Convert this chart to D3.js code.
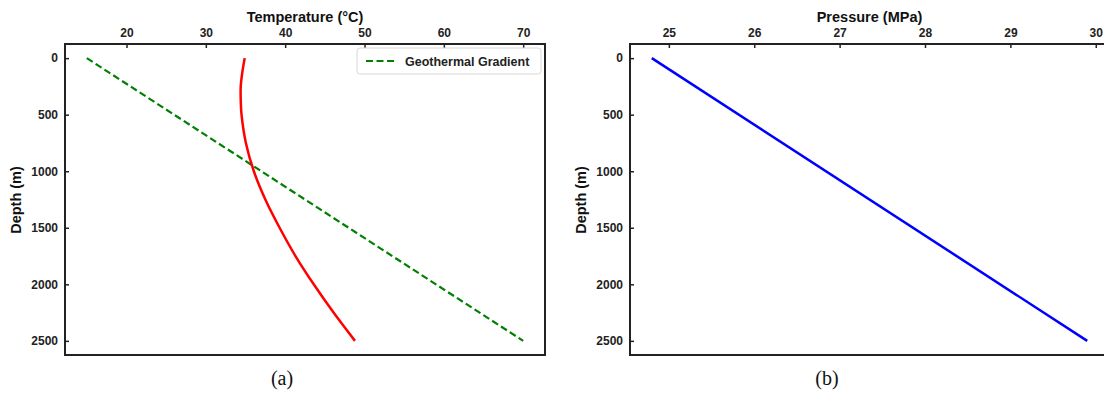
<!DOCTYPE html>
<html>
<head>
<meta charset="utf-8">
<script src="https://cdn.jsdelivr.net/npm/d3@7"></script>
<style>
  body { margin: 0; background: #fff; }
  svg { display: block; }
  .tick text { font-family: "Liberation Sans", Arial, sans-serif; font-weight: bold; font-size: 12px; fill: #222; }
</style>
</head>
<body>
<div id="chart"></div>
<script>
// values
var depthTicks = [0, 500, 1000, 1500, 2000, 2500];
var tempTicks = [20, 30, 40, 50, 60, 70];
var pressTicks = [25, 26, 27, 28, 29, 30];

// (a) temperature profile
var tempDepth = [0, 125, 250, 375, 500, 750, 1000, 1250, 1500, 1750, 2000, 2250, 2500];
var tempValues = [34.9, 34.6, 34.4, 34.4, 34.5, 35.05, 36.05, 37.5, 39.3, 41.3, 43.6, 46.1, 48.8];

// geothermal gradient
var geoDepth = [0, 2500];
var geoTemp = [15, 70];

// (b) pressure profile
var pressDepth = [0, 2500];
var pressValues = [24.8, 29.9];

var W = 1104, H = 394;
var svg = d3.select("#chart").append("svg")
    .attr("width", W)
    .attr("height", H);

var font = "'Liberation Sans', Arial, sans-serif";

function panel(opts) {
    var x = d3.scaleLinear().domain(opts.xDomain).range([opts.left, opts.right]);
    var y = d3.scaleLinear().domain([-125, 2625]).range([44, 355]);

    var g = svg.append("g");

    g.append("g")
        .attr("transform", "translate(0,44)")
        .call(d3.axisTop(x).tickValues(opts.xTicks).tickSize(-4).tickPadding(7).tickFormat(d3.format("d")));

    g.append("g")
        .attr("transform", "translate(" + opts.left + ",0)")
        .call(d3.axisLeft(y).tickValues(depthTicks).tickSize(-4).tickPadding(7).tickFormat(d3.format("d")));

    g.selectAll(".domain").remove();
    g.selectAll(".tick line").attr("stroke", "#222").attr("stroke-width", 1.5);

    var line = d3.line()
        .x(function(d) { return x(d[0]); })
        .y(function(d) { return y(d[1]); });

    opts.series.forEach(function(s) {
        var pts = s.depth.map(function(d, i) { return [s.values[i], d]; });
        g.append("path")
            .datum(pts)
            .attr("fill", "none")
            .attr("stroke", s.color)
            .attr("stroke-width", s.width)
            .attr("stroke-dasharray", s.dash || null)
            .attr("d", line.curve(s.curve || d3.curveLinear));
    });

    // frame
    g.append("rect")
        .attr("x", opts.left)
        .attr("y", 44)
        .attr("width", opts.right - opts.left)
        .attr("height", 311)
        .attr("fill", "none")
        .attr("stroke", "#222")
        .attr("stroke-width", 2);

    // axis titles
    g.append("text")
        .attr("x", (opts.left + opts.right) / 2)
        .attr("y", 22)
        .attr("text-anchor", "middle")
        .style("font-family", font)
        .style("font-weight", "bold")
        .style("font-size", "14.5px")
        .attr("fill", "#111")
        .text(opts.xLabel);

    g.append("text")
        .attr("transform", "translate(" + (opts.left - 44) + ",200) rotate(-90)")
        .attr("text-anchor", "middle")
        .style("font-family", font)
        .style("font-weight", "bold")
        .style("font-size", "14.5px")
        .attr("fill", "#111")
        .text("Depth (m)");

    g.append("text")
        .attr("x", opts.tagX)
        .attr("y", 385)
        .attr("text-anchor", "middle")
        .style("font-family", "'Liberation Serif', 'Times New Roman', serif")
        .style("font-size", "20px")
        .attr("fill", "#111")
        .text(opts.tag);

    return g;
}

var ga = panel({
    left: 65, right: 545,
    xDomain: [12.25, 72.75],
    xTicks: tempTicks,
    xLabel: "Temperature (°C)",
    tag: "(a)", tagX: 282,
    series: [
        { depth: geoDepth, values: geoTemp, color: "#008000", width: 2.2, dash: "7,3.5" },
        { depth: tempDepth, values: tempValues, color: "#ff0000", width: 2.5, curve: d3.curveCatmullRom }
    ]
});

// legend
var lg = ga.append("g").attr("transform", "translate(357,48)");
lg.append("rect")
    .attr("width", 184)
    .attr("height", 26)
    .attr("rx", 3)
    .attr("fill", "#fff")
    .attr("stroke", "#d8d8d8")
    .attr("stroke-width", 1);
lg.append("line")
    .attr("x1", 9).attr("x2", 38)
    .attr("y1", 13).attr("y2", 13)
    .attr("stroke", "#008000")
    .attr("stroke-width", 2.2)
    .attr("stroke-dasharray", "7,3.5");
lg.append("text")
    .attr("x", 48)
    .attr("y", 17.5)
    .style("font-family", font)
    .style("font-weight", "bold")
    .style("font-size", "12.5px")
    .attr("fill", "#222")
    .text("Geothermal Gradient");

panel({
    left: 630, right: 1109,
    xDomain: [24.545, 30.155],
    xTicks: pressTicks,
    xLabel: "Pressure (MPa)",
    tag: "(b)", tagX: 827,
    series: [
        { depth: pressDepth, values: pressValues, color: "#0000ff", width: 2.5 }
    ]
});
</script>
</body>
</html>
